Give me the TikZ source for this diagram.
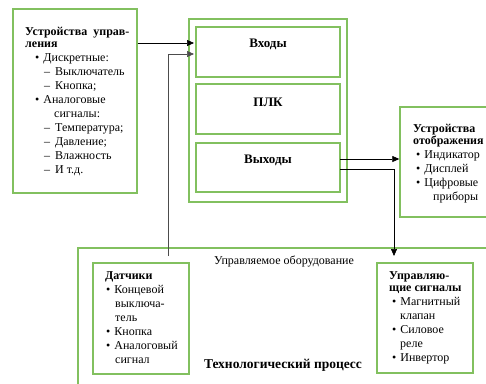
\documentclass[tikz,border=0pt]{standalone}
\usepackage{fontspec}
\setmainfont{Liberation Serif}
\usepackage{tikz}
\usetikzlibrary{arrows.meta}
\definecolor{boxgreen}{RGB}{130,192,95}
\newcommand{\itm}{\textbullet\hspace{4pt}}
\newcommand{\dsh}{--\hspace{5pt}}

\begin{document}
\begin{tikzpicture}[x=1pt,y=-1pt,
  gbox/.style={draw=boxgreen,line width=1.4pt,inner sep=0pt},
  txt/.style={align=left,anchor=north west,inner sep=0pt,font=\fontsize{12}{14}\selectfont},
  head/.style={font=\fontsize{13}{15}\selectfont\bfseries},
  arr/.style={-{Triangle[length=7pt,width=6pt]},line width=0.6pt}]
\useasboundingbox (0,0) rectangle (486,383);
\clip (0,0) rectangle (486,383);
% boxes
\node[gbox,minimum width=124pt,minimum height=184pt] (ctrl) at (75,101) {};
\node[gbox,minimum width=158pt,minimum height=183pt] (plc) at (268,110.5) {};
\node[gbox,minimum width=144pt,minimum height=50pt] (in) at (268,52) {};
\node[gbox,minimum width=144pt,minimum height=50pt] (core) at (268,109) {};
\node[gbox,minimum width=144pt,minimum height=49pt] (out) at (268,167.5) {};
\node[gbox,minimum width=100pt,minimum height=110pt] (disp) at (450,162) {};
\node[gbox,minimum width=442pt,minimum height=172pt] (proc) at (299,334) {};
\node[gbox,minimum width=96pt,minimum height=111pt] (sens) at (141,318.5) {};
\node[gbox,minimum width=96pt,minimum height=110pt] (act) at (425,318) {};
% texts
\node[head] at (268,44) {Входы};
\node[head] at (268,102) {ПЛК};
\node[head] at (268,160) {Выходы};
\node[txt] (ctrltxt) at (25,27) {\textbf{Устройства\hspace{6pt}управ-}\\[-2pt]
  \textbf{ления}\\
  \hspace*{10pt}\itm Дискретные:\\
  \hspace*{19pt}\dsh Выключатель\\
  \hspace*{19pt}\dsh Кнопка;\\
  \hspace*{10pt}\itm Аналоговые\\
  \hspace*{29pt}сигналы:\\
  \hspace*{19pt}\dsh Температура;\\
  \hspace*{19pt}\dsh Давление;\\
  \hspace*{19pt}\dsh Влажность\\
  \hspace*{19pt}\dsh И т.д.};
\node[txt] (disptxt) at (413,124) {\textbf{Устройства}\\[-2pt]
  \textbf{отображения}\\
  \hspace*{3pt}\itm Индикатор\\
  \hspace*{3pt}\itm Дисплей\\
  \hspace*{3pt}\itm Цифровые\\
  \hspace*{20pt}приборы};
\node[txt] (senstxt) at (105,271) {\textbf{Датчики}\\
  \hspace*{1pt}\itm Концевой\\
  \hspace*{10pt}выключа-\\
  \hspace*{10pt}тель\\
  \hspace*{1pt}\itm Кнопка\\
  \hspace*{1pt}\itm Аналоговый\\
  \hspace*{10pt}сигнал};
\node[txt] (acttxt) at (389,271) {\textbf{Управляю-}\\[-2pt]
  \textbf{щие сигналы}\\
  \hspace*{3pt}\itm Магнитный\\
  \hspace*{11pt}клапан\\
  \hspace*{3pt}\itm Силовое\\
  \hspace*{11pt}реле\\
  \hspace*{3pt}\itm Инвертор};
\node[font=\fontsize{12}{14}\selectfont] (proclbl) at (284,261) {Управляемое оборудование};
\node[font=\fontsize{13.5}{16}\selectfont\bfseries] (procname) at (283,365) {Технологический процесс};
% connectors
\coordinate (inA) at (194,43);
\coordinate (inB) at (194,54);
\coordinate (procA) at (168,256);
\coordinate (outA) at (340,159);
\coordinate (outB) at (340,169);
\coordinate (procB) at (394,256);
\draw[arr] (ctrl.east |- inA) -- (inA);
\draw[arr,black!70] (procA) |- (inB);
\draw[arr] (outA) -- (disp.west |- outA);
\draw[arr] (outB) -| (procB);
\end{tikzpicture}
\end{document}
